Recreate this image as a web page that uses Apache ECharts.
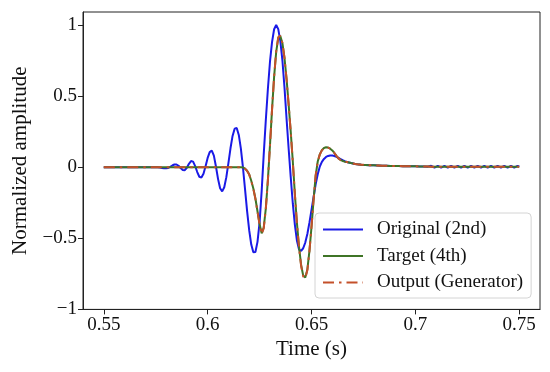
<!DOCTYPE html>
<html>
<head>
<meta charset="utf-8">
<script src="https://cdn.jsdelivr.net/npm/echarts@6/dist/echarts.min.js"></script>
<style>
html,body{margin:0;padding:0;background:#fff;}
#chart{width:550px;height:372px;}
</style>
</head>
<body>
<div id="chart"></div>
<script>
// ---- data ----
const time = [
0.550,0.555,0.560,0.565,0.570,0.571,
0.572,0.573,0.574,0.575,0.576,0.577,0.578,0.579,0.580,0.581,
0.582,0.583,0.584,0.585,0.586,0.587,0.588,0.589,0.590,0.591,
0.592,0.593,0.594,0.595,0.596,0.597,0.598,0.599,0.600,0.601,
0.602,0.603,0.604,0.605,0.606,0.607,0.608,0.609,0.610,0.611,
0.612,0.613,0.614,0.615,0.616,0.617,0.618,0.619,0.620,0.621,
0.622,0.623,0.624,0.625,0.626,0.627,0.628,0.629,0.630,0.631,
0.632,0.633,0.634,0.635,0.636,0.637,0.638,0.639,0.640,0.641,
0.642,0.643,0.644,0.645,0.646,0.647,0.648,0.649,0.650,0.651,
0.652,0.653,0.654,0.655,0.656,0.657,0.658,0.659,0.660,0.661,
0.662,0.663,0.664,0.665,0.666,0.667,0.668,0.669,0.670,0.671,
0.672,0.674,0.676,0.678,0.680,0.682,0.684,0.686,0.688,0.690,
0.692,0.694,0.696,0.698,0.700,0.702,0.704,
0.7060,0.7076,0.7092,0.7108,0.7124,0.7140,0.7156,0.7172,0.7188,0.7204,
0.7220,0.7236,0.7252,0.7268,0.7284,0.7300,0.7316,0.7332,0.7348,0.7364,
0.7380,0.7396,0.7412,0.7428,0.7444,0.7460,0.7476,0.7492,0.7500
];

const original = [
0,0,0,0,0,0,
0,0,0,0,-0.001,-0.003,-0.005,-0.007,-0.008,-0.005,
0.003,0.012,0.019,0.019,0.010,-0.006,-0.019,-0.021,-0.004,0.024,
0.043,0.039,0.008,-0.034,-0.067,-0.073,-0.046,0.007,0.065,0.106,
0.117,0.081,0.005,-0.082,-0.148,-0.170,-0.141,-0.070,0.029,0.133,
0.220,0.271,0.276,0.227,0.130,-0.002,-0.154,-0.309,-0.443,-0.544,
-0.598,-0.596,-0.525,-0.390,-0.170,0.090,0.330,0.550,0.740,0.880,
0.970,1.000,0.971,0.887,0.750,0.560,0.340,0.130,-0.070,-0.255,
-0.405,-0.518,-0.579,-0.588,-0.570,-0.530,-0.470,-0.390,-0.300,-0.210,
-0.120,-0.050,0.005,0.038,0.058,0.072,0.079,0.082,0.082,0.079,
0.073,0.065,0.057,0.049,0.042,0.037,0.033,0.029,0.026,0.023,
0.021,0.018,0.016,0.014,0.013,0.012,0.011,0.010,0.009,0.008,
0.008,0.007,0.007,0.006,0.006,0.005,0.005,
0.004,0.010,-0.003,0.010,-0.003,0.010,-0.003,0.010,-0.003,0.010,
-0.003,0.010,-0.003,0.010,-0.003,0.010,-0.003,0.010,-0.003,0.010,
-0.003,0.010,-0.003,0.010,-0.003,0.010,-0.003,0.010,0.004
];

const target = [
0,0,0,0,0,0,
0,0,0,0,0,0,0,0,0,0,
0,0,0,0,0,0,0,0,0,0,
0,0,0,0,0,0,0,0,0,0,
0,0,0,0,0,0,0,0,0,0,
0,0,0,0,0,-0.002,-0.010,-0.025,-0.050,-0.095,
-0.150,-0.220,-0.310,-0.400,-0.465,-0.424,-0.291,-0.091,0.152,0.405,
0.635,0.811,0.910,0.922,0.872,0.768,0.620,0.440,0.250,0.040,
-0.190,-0.395,-0.560,-0.688,-0.762,-0.775,-0.720,-0.590,-0.420,-0.230,
-0.060,0.040,0.090,0.120,0.135,0.140,0.138,0.130,0.118,0.100,
0.080,0.062,0.050,0.044,0.039,0.036,0.033,0.029,0.026,0.023,
0.021,0.018,0.016,0.014,0.013,0.012,0.011,0.010,0.009,0.008,
0.008,0.007,0.007,0.006,0.006,0.005,0.005,
0.005,0.004,0.004,0.004,0.004,0.004,0.004,0.003,0.003,0.003,
0.003,0.003,0.003,0.003,0.003,0.003,0.003,0.003,0.003,0.003,
0.003,0.003,0.003,0.003,0.003,0.003,0.003,0.003,0.003
];

const output = [
0,0,0,0,0,0,
0,0,0,0,0,0,0,0,0,0,
0,0,0,0,0,0,0,0,0,0,
0,0,0,0,0,0,0,0,0,0,
0,0,0,0,0,0,0,0,0,0,
0,0,0,0,0,-0.002,-0.010,-0.026,-0.052,-0.097,
-0.152,-0.223,-0.313,-0.404,-0.470,-0.430,-0.295,-0.093,0.150,0.404,
0.636,0.814,0.915,0.925,0.874,0.768,0.618,0.438,0.248,0.038,
-0.192,-0.398,-0.565,-0.693,-0.768,-0.782,-0.725,-0.592,-0.420,-0.228,
-0.058,0.040,0.089,0.118,0.133,0.138,0.137,0.130,0.118,0.100,
0.080,0.062,0.050,0.044,0.039,0.036,0.033,0.029,0.026,0.023,
0.021,0.018,0.016,0.014,0.013,0.012,0.011,0.010,0.009,0.008,
0.008,0.007,0.007,0.006,0.006,0.005,0.005,
0.005,0.004,0.004,0.004,0.004,0.004,0.004,0.003,0.003,0.003,
0.003,0.003,0.003,0.003,0.003,0.003,0.003,0.003,0.003,0.003,
0.003,0.003,0.003,0.003,0.003,0.003,0.003,0.003,0.003
];

const seriesNames = ['Original (2nd)', 'Target (4th)', 'Output (Generator)'];
const xTicks = [0.55, 0.6, 0.65, 0.7, 0.75];
const xTickLabels = ['0.55', '0.6', '0.65', '0.7', '0.75'];
const yTicks = [-1, -0.5, 0, 0.5, 1];
const yTickLabels = ['\u22121', '\u22120.5', '0', '0.5', '1'];

// ---- chart ----
const FONT = "'Liberation Serif', 'Times New Roman', serif";
const pair = (vals) => time.map((t, i) => [t, vals[i]]);
const lookup = (ticks, labels) => (v) => {
  for (let i = 0; i < ticks.length; i++) if (Math.abs(ticks[i] - v) < 1e-9) return labels[i];
  return '';
};

const chart = echarts.init(document.getElementById('chart'), null, {renderer: 'canvas'});
chart.setOption({
  backgroundColor: '#ffffff',
  animation: false,
  grid: {
    left: 83, right: 10, top: 12, bottom: 62.6,
    show: true, borderColor: '#222', borderWidth: 1, backgroundColor: 'transparent'
  },
  xAxis: {
    type: 'value', min: 0.54, max: 0.76,
    name: 'Time (s)', nameLocation: 'middle', nameGap: 30,
    nameTextStyle: {fontFamily: FONT, fontSize: 21, color: '#111'},
    axisLine: {show: true, onZero: false, lineStyle: {color: '#222', width: 1}},
    axisTick: {show: true, customValues: xTicks, length: 5, lineStyle: {color: '#222'}},
    axisLabel: {customValues: xTicks, formatter: lookup(xTicks, xTickLabels), margin: 6,
      fontFamily: FONT, fontSize: 19, color: '#111'},
    splitLine: {show: false}
  },
  yAxis: {
    type: 'value', min: -1, max: 1.0914,
    name: 'Normalized amplitude', nameLocation: 'middle', nameGap: 52,
    nameTextStyle: {fontFamily: FONT, fontSize: 21, color: '#111'},
    axisLine: {show: true, onZero: false, lineStyle: {color: '#222', width: 1}},
    axisTick: {show: true, customValues: yTicks, length: 5, lineStyle: {color: '#222'}},
    axisLabel: {customValues: yTicks, formatter: lookup(yTicks, yTickLabels), margin: 6,
      fontFamily: FONT, fontSize: 19, color: '#111'},
    splitLine: {show: false}
  },
  legend: {
    orient: 'vertical', left: 315, top: 213,
    data: seriesNames,
    itemWidth: 40, itemHeight: 14, itemGap: 7.5,
    padding: [7, 8, 6, 7],
    itemStyle: {opacity: 0},
    backgroundColor: '#ffffff', borderColor: '#d4d4d4', borderWidth: 1, borderRadius: 4,
    textStyle: {fontFamily: FONT, fontSize: 19, lineHeight: 19, color: '#111', padding: [0, 0, 0, 9]}
  },
  series: [
    {name: seriesNames[0], type: 'line', data: pair(original), symbol: 'none', showSymbol: false,
      color: '#1a1ae6', lineStyle: {width: 2, color: '#1a1ae6'}, z: 2},
    {name: seriesNames[1], type: 'line', data: pair(target), symbol: 'none', showSymbol: false,
      color: '#3f7426', lineStyle: {width: 2, color: '#3f7426'}, z: 3},
    {name: seriesNames[2], type: 'line', data: pair(output), symbol: 'none', showSymbol: false,
      color: '#c4502a', lineStyle: {width: 2, color: '#c4502a', type: [11, 5, 2.5, 5]}, z: 4}
  ]
});
</script>
</body>
</html>
